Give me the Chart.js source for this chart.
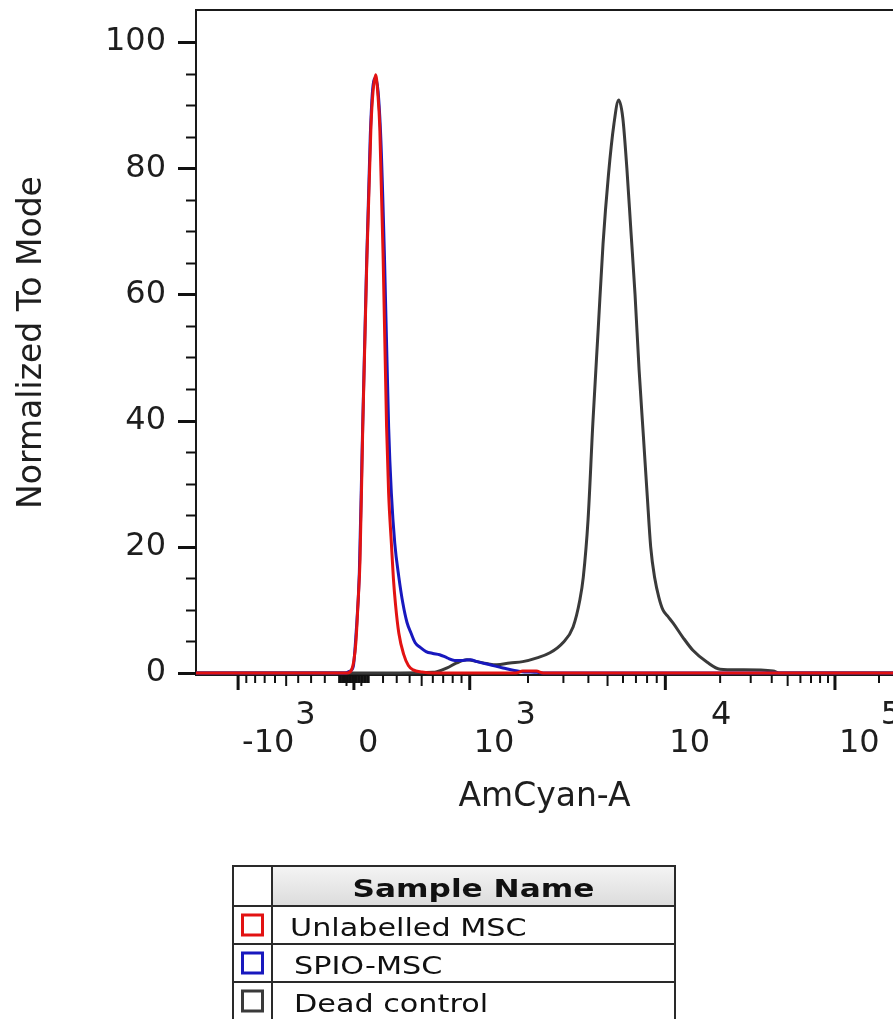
<!DOCTYPE html>
<html>
<head>
<meta charset="utf-8">
<title>AmCyan-A histogram</title>
<script src="https://cdn.jsdelivr.net/npm/chart.js@4.4.1/dist/chart.umd.min.js"></script>
<style>
  html, body { margin: 0; padding: 0; background: #fff; }
  canvas { display: block; }
</style>
</head>
<body>
<canvas id="histChart" width="893" height="1019"></canvas>
<script>
// Sample names and line colours (legend order)
const sampleNames = ["Unlabelled MSC", "SPIO-MSC", "Dead control"];
const sampleColors = ["rgb(226,18,18)", "rgb(24,24,190)", "rgb(58,58,58)"];

// x = AmCyan-A display channel (0-1024, biexponential), y = normalized to mode (%)
const unlabelledChannel = [0, 212, 222, 228, 232, 235, 238, 241, 245, 251, 257, 260, 264, 267, 270, 275, 280, 283, 287, 290, 293, 298, 305, 312, 319, 332, 348, 470, 480, 500, 510, 1024];
const unlabelledCount = [0, 0, 0, 0.4, 2, 5, 11, 18, 39, 65.5, 86.5, 92, 94.8, 92, 86.5, 65.5, 39, 28.5, 20.6, 15, 11, 6.3, 3, 1.2, 0.5, 0.15, 0, 0, 0.3, 0.3, 0, 0];

const spioChannel = [0, 219, 226, 231, 235, 240, 244, 250, 256, 260, 264, 271, 277, 283, 287, 292, 298, 304, 310, 316, 322, 329, 338, 348, 358, 369, 380, 392, 403, 413, 432, 451, 476, 501, 513, 1024];
const spioCount = [0, 0, 0.3, 1, 6, 16, 35, 62, 85, 93, 94.3, 86, 65.5, 39, 28.5, 20.6, 15.2, 11, 8, 6.3, 4.8, 4.1, 3.4, 3.1, 2.9, 2.4, 2.0, 2.0, 2.1, 1.8, 1.3, 0.8, 0.25, 0.1, 0, 0];

const deadChannel = [0, 300, 348, 354, 369, 383, 398, 413, 427, 442, 461, 480, 501, 520, 539, 554, 564, 569, 576, 583, 591, 598, 606, 614, 621, 627, 633, 639, 645, 651, 657, 663, 668, 674, 680, 686, 693, 701, 715, 730, 751, 770, 799, 848, 858, 1024];
const deadCount = [0, 0, 0.1, 0.2, 0.8, 1.6, 2.1, 1.8, 1.5, 1.3, 1.6, 1.8, 2.4, 3.2, 4.8, 7.3, 11.6, 15.2, 24.3, 39.5, 54.7, 68, 79, 87, 90.8, 88, 80, 70, 60, 48, 38, 28, 20, 15, 12, 10, 9, 7.9, 5.7, 3.6, 1.7, 0.6, 0.5, 0.3, 0, 0];

// Axis ticks
const xMajorValues = [-1000, 0, 1000, 10000, 100000];
const xLabelBase = ["-10", "0", "10", "10", "10"];
const xLabelExp = ["3", "", "3", "4", "5"];
const yMajorTicks = [0, 20, 40, 60, 80, 100];

const FONT = '"DejaVu Sans", Verdana, sans-serif';
const CHANNEL_MAX = 1024;

// biexponential-style display transform: fluorescence value -> display channel
function channelOf(v) {
    const u = Math.asinh(Math.abs(v) / 700) / Math.LN10;
    return 232 + Math.sign(v) * (352.6 * u - 26.4 * u * u);
}

// minor tick values between the labelled decades
const xMinorValues = [];
[10, 100].forEach((d) => {
    for (let k = 1; k <= 9; k++) {
        xMinorValues.push(k * d, -k * d);
    }
});
[1000, 10000, 100000].forEach((d) => {
    for (let k = 2; k <= 9; k++) {
        if (channelOf(k * d) <= CHANNEL_MAX) xMinorValues.push(k * d);
    }
});

function toPoints(xs, ys) {
    return xs.map((x, i) => ({ x: x, y: ys[i] }));
}

// Draws the frame, tick marks, x labels with exponents and the sample table
const axisDecor = {
    id: "axisDecor",
    beforeDatasetsDraw(chart) {
        const { ctx, chartArea: a } = chart;
        ctx.save();
        ctx.strokeStyle = "#1a1a1a";
        ctx.lineWidth = 2;
        ctx.beginPath();
        ctx.moveTo(a.right + 2, a.top);
        ctx.lineTo(a.left, a.top);
        ctx.lineTo(a.left, a.bottom);
        ctx.lineTo(a.right + 2, a.bottom);
        ctx.stroke();
        ctx.restore();
    },
    afterDraw(chart) {
        const { ctx, chartArea: a, scales } = chart;
        const xs = scales.x;
        const ys = scales.y;
        ctx.save();
        ctx.strokeStyle = "#111";

        // y ticks: every 5, long ones every 20
        for (let v = 0; v <= 100; v += 5) {
            const py = Math.round(ys.getPixelForValue(v)) + 0.5;
            const major = v % 20 === 0;
            ctx.lineWidth = major ? 3 : 2;
            ctx.beginPath();
            ctx.moveTo(a.left - (major ? 18 : 10), py);
            ctx.lineTo(a.left, py);
            ctx.stroke();
        }

        // x ticks
        const drawXTick = (v, len, w) => {
            const px = xs.getPixelForValue(channelOf(v));
            ctx.lineWidth = w;
            ctx.beginPath();
            ctx.moveTo(px, a.bottom);
            ctx.lineTo(px, a.bottom + len);
            ctx.stroke();
        };
        xMinorValues.forEach((v) => {
            const lead = Math.abs(v) / Math.pow(10, Math.floor(Math.log10(Math.abs(v))));
            drawXTick(v, Math.round(lead) === 5 ? 11 : 8, 2);
        });
        xMajorValues.forEach((v) => drawXTick(v, 15, 3));

        // x labels 10^n
        ctx.fillStyle = "#1e1e1e";
        ctx.font = "32px " + FONT;
        ctx.textAlign = "left";
        ctx.textBaseline = "alphabetic";
        xMajorValues.forEach((v, i) => {
            const px = xs.getPixelForValue(channelOf(v)) + 4;
            ctx.fillText(xLabelBase[i], px, a.bottom + 77);
            if (xLabelExp[i]) {
                const w = ctx.measureText(xLabelBase[i]).width;
                ctx.fillText(xLabelExp[i], px + w + 1, a.bottom + 49);
            }
        });

        // sample table
        const t = { left: 233, split: 272, right: 675, top: 866, head: 40, row: 38 };
        const bottom = chart.height + 2;
        const grad = ctx.createLinearGradient(0, t.top, 0, t.top + t.head);
        grad.addColorStop(0, "#f4f4f4");
        grad.addColorStop(1, "#dcdcdc");
        ctx.fillStyle = grad;
        ctx.fillRect(t.split, t.top, t.right - t.split, t.head);

        ctx.strokeStyle = "#2a2a2a";
        ctx.lineWidth = 2;
        ctx.beginPath();
        [t.left, t.split, t.right].forEach((x) => {
            ctx.moveTo(x, t.top);
            ctx.lineTo(x, bottom);
        });
        for (let r = 0; r <= sampleNames.length; r++) {
            const yy = r === 0 ? t.top : t.top + t.head + (r - 1) * t.row;
            ctx.moveTo(t.left - 1, yy);
            ctx.lineTo(t.right + 1, yy);
        }
        ctx.stroke();

        ctx.fillStyle = "#111";
        ctx.font = "bold 24px " + FONT;
        ctx.textAlign = "center";
        ctx.save();
        ctx.translate((t.split + t.right) / 2, t.top + 31);
        ctx.scale(1.3, 1);
        ctx.fillText("Sample Name", 0, 0);
        ctx.restore();

        chart.data.datasets.forEach((ds, i) => {
            const rowTop = t.top + t.head + i * t.row;
            ctx.strokeStyle = ds.borderColor;
            ctx.lineWidth = 3;
            ctx.strokeRect((t.left + t.split) / 2 - 10, rowTop + 9, 20, 20);
            ctx.fillStyle = "#111";
            ctx.font = "24px " + FONT;
            ctx.textAlign = "left";
            ctx.save();
            ctx.translate(t.split + 18 + (i === 0 ? 0 : 4), rowTop + 30);
            ctx.scale(1.26, 1);
            ctx.fillText(ds.label, 0, 0);
            ctx.restore();
        });
        ctx.restore();
    },
};

const ctx = document.getElementById("histChart").getContext("2d");
new Chart(ctx, {
    type: "line",
    data: {
        datasets: [
            { label: sampleNames[0], data: toPoints(unlabelledChannel, unlabelledCount), borderColor: sampleColors[0] },
            { label: sampleNames[1], data: toPoints(spioChannel, spioCount), borderColor: sampleColors[1] },
            { label: sampleNames[2], data: toPoints(deadChannel, deadCount), borderColor: sampleColors[2] },
        ],
    },
    options: {
        responsive: false,
        animation: false,
        layout: { padding: { top: 10, right: 0, bottom: 0, left: 0 } },
        elements: {
            point: { radius: 0 },
            line: { borderWidth: 3, fill: false, cubicInterpolationMode: "monotone" },
        },
        plugins: {
            legend: { display: false },
            tooltip: { enabled: false },
        },
        scales: {
            x: {
                type: "linear",
                min: 0,
                max: CHANNEL_MAX,
                grid: { display: false, drawTicks: false },
                border: { display: false },
                ticks: { display: false },
                title: {
                    display: true,
                    text: "AmCyan-A",
                    color: "#1e1e1e",
                    font: { family: FONT, size: 33 },
                    padding: { top: 0, bottom: 202 },
                },
                afterFit: (scale) => {
                    scale.height = 344;
                },
            },
            y: {
                min: -0.317,
                max: 105.07,
                grid: { display: false, drawTicks: false },
                border: { display: false },
                afterBuildTicks: (scale) => {
                    scale.ticks = yMajorTicks.map((v) => ({ value: v }));
                },
                ticks: {
                    color: "#1e1e1e",
                    font: { family: FONT, size: 32 },
                    padding: 30,
                },
                title: {
                    display: true,
                    text: "Normalized To Mode",
                    color: "#1e1e1e",
                    font: { family: FONT, size: 33 },
                    padding: { top: 13, bottom: 0 },
                },
                afterFit: (scale) => {
                    scale.width = 196;
                    scale.paddingTop = 0;
                    scale.paddingBottom = 0;
                },
            },
        },
    },
    plugins: [axisDecor],
});
</script>
</body>
</html>
